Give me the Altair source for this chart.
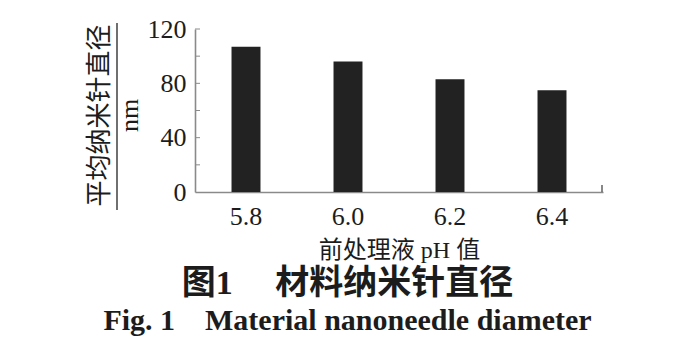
import altair as alt
import pandas as pd

# Data
ph_values = ["5.8", "6.0", "6.2", "6.4"]
diameters = [107, 96, 83, 75]
y_tick_values = [20, 40, 60, 80, 100, 120]
y_label_values = [0, 40, 80, 120]

x_title = "前处理液 pH 值"
y_title = ["平均纳米针直径", "nm\u2002\u2009"]
cap_cn = "图1 \u3000材料纳米针直径"
cap_en = "Fig. 1\u2003Material nanoneedle diameter"

SERIF_CJK = "Liberation Serif, Noto Sans CJK SC"
AXIS_GRAY = "#8a8a8a"
INK = "#1c1c1c"

df = pd.DataFrame({"ph": ph_values, "d": diameters})
ticks_df = pd.DataFrame({"d": y_tick_values})
one = pd.DataFrame({"k": [0]})

yscale = alt.Scale(domain=[0, 120])

y_axis = alt.Axis(
    title=y_title,
    values=y_label_values,
    grid=False,
    ticks=False,
    tickSize=0,
    labelFont="Liberation Serif",
    labelFontSize=26,
    labelColor=INK,
    labelPadding=9,
    domainColor=AXIS_GRAY,
    domainWidth=1.6,
    titleFont=SERIF_CJK,
    titleFontSize=26,
    titleFontWeight="normal",
    titleColor=INK,
    titleAngle=-90,
    titleAlign="center",
    titleBaseline="middle",
    titleLineHeight=30,
    titleX=-96,
    titleY=86,
)

bars = alt.Chart(df).mark_bar(color="#222222").encode(
    x=alt.X(
        "ph:N",
        sort=ph_values,
        scale=alt.Scale(paddingInner=0.716, paddingOuter=0.358),
        axis=alt.Axis(
            title=x_title,
            labelAngle=0,
            labelFont="Liberation Serif",
            labelFontSize=26,
            labelColor=INK,
            labelPadding=11,
            ticks=False,
            tickSize=0,
            domainColor=AXIS_GRAY,
            domainWidth=1.6,
            titleFont=SERIF_CJK,
            titleFontSize=24,
            titleFontWeight="normal",
            titleColor=INK,
            titlePadding=9,
        ),
    ),
    y=alt.Y("d:Q", scale=yscale, axis=y_axis),
)

inner_ticks = alt.Chart(ticks_df).mark_rule(color=AXIS_GRAY, strokeWidth=1).encode(
    y=alt.Y("d:Q", scale=yscale, axis=y_axis),
    x=alt.value(0),
    x2=alt.value(5),
)

fraction_line = alt.Chart(one).mark_rule(color="#333333", strokeWidth=1.4).encode(
    x=alt.value(-78), y=alt.value(-6), y2=alt.value(181)
)

end_tick = alt.Chart(one).mark_rule(color="#555555", strokeWidth=1.4).encode(
    x=alt.value(407), y=alt.value(156), y2=alt.value(163)
)

chart = (
    alt.layer(bars, inner_ticks, fraction_line, end_tick)
    .properties(
        width=408,
        height=163,
        autosize=alt.AutoSizeParams(type="none"),
        padding={"left": 195, "top": 29, "right": 97, "bottom": 162},
        background="white",
        title=alt.TitleParams(
            text=cap_cn,
            subtitle=cap_en,
            orient="bottom",
            anchor="middle",
            frame="bounds",
            dx=3,
            font=SERIF_CJK,
            fontSize=34,
            fontWeight="bold",
            color=INK,
            subtitleFont="Liberation Serif",
            subtitleFontSize=30,
            subtitleFontWeight="bold",
            subtitleColor=INK,
            subtitlePadding=5,
            offset=5,
        ),
    )
    .configure_view(strokeWidth=0, stroke="transparent")
)

chart.save("out.html", embed_options={"renderer": "svg", "actions": False})
